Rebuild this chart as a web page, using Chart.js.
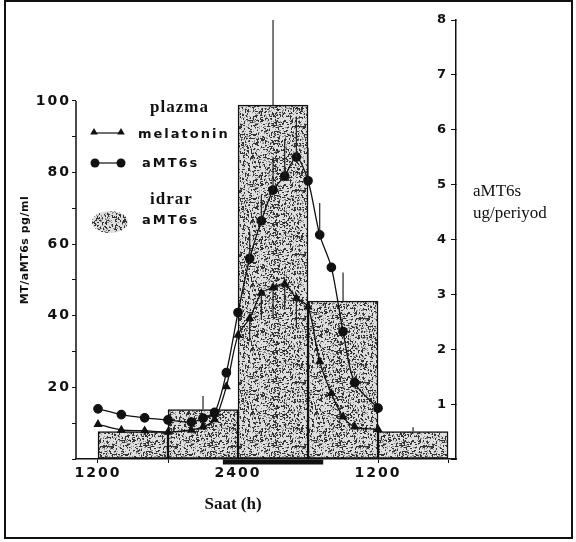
<!DOCTYPE html>
<html>
<head>
<meta charset="utf-8">
<script src="https://cdn.jsdelivr.net/npm/chart.js@4"></script>
<style>
html, body { margin: 0; padding: 0; background: #fff; }
#wrap { position: relative; width: 576px; height: 542px; }
#frame { position: absolute; left: 4px; top: 0px; width: 565px; height: 535px; border: 2px solid #111; pointer-events: none; }
</style>
</head>
<body>
<div id="wrap">
<canvas id="chart" width="576" height="542"></canvas>
<div id="frame"></div>
</div>
<script>
// saat (h): 12 = 1200, 24 = 2400, 36 = ertesi gun 1200
var plasmaHours = [12, 14, 16, 18, 20, 21, 22, 23, 24, 25, 26, 27, 28, 29, 30, 31, 32, 33, 34, 36];
var melatonin = [9.7, 8.1, 7.9, 7.5, 8.1, 9.0, 11.0, 20.2, 34.6, 39.3, 46.3, 47.9, 48.9, 44.9, 42.5, 27.2, 18.3, 11.8, 9.0, 8.3];
var melatoninLow = [null, null, null, null, null, null, null, null, null, 32.8, 38.8, 40.2, 41.6, 36.5, null, null, null, null, null, null];
var plasmaAmt6s = [14.0, 12.4, 11.5, 10.9, 10.3, 11.4, 13.0, 24.1, 40.9, 56.0, 66.5, 75.1, 79.0, 84.3, 77.7, 62.6, 53.5, 35.6, 21.3, 14.2];
var plasmaAmt6sHigh = [null, null, null, null, null, null, null, null, null, 63.5, 73.7, 84.4, 89.0, 95.6, 86.9, 71.5, null, null, null, null];

// idrar aMT6s, 6 saatlik periyotlar (orta noktasi)
var urineHours = [15, 21, 27, 33, 39];
var urineAmt6s = [0.5, 0.9, 6.45, 2.88, 0.5];
var urineAmt6sHigh = [null, 1.15, 8.0, 3.4, 0.58];

var darkPeriod = [22.7, 31.3];

var xTicks = [12, 18, 24, 30, 36, 42];
var xTickLabels = { 12: '1200', 24: '2400', 36: '1200' };
var leftTicks = [0, 10, 20, 30, 40, 50, 60, 70, 80, 90, 100];
var rightTicks = [0, 1, 2, 3, 4, 5, 6, 7, 8];

var sansBold = 'bold 13px "DejaVu Sans"';
var serif = '"Liberation Serif"';

// noktali (stipple) dolgu
function makeStipple() {
    var c = document.createElement('canvas');
    c.width = 64; c.height = 64;
    var g = c.getContext('2d');
    g.fillStyle = '#dedede';
    g.fillRect(0, 0, 64, 64);
    var s = 12345;
    function rnd() { s = (s * 9301 + 49297) % 233280; return s / 233280; }
    for (var i = 0; i < 1300; i++) {
        var x = Math.floor(rnd() * 64);
        var y = Math.floor(rnd() * 64);
        if (i % 2 === 0) {
            g.fillStyle = '#333';
            g.fillRect(x, y, (i % 4 === 0) ? 2 : 1, (i % 4 === 0) ? 1 : 2);
        } else {
            g.fillStyle = '#8c8c8c';
            g.fillRect(x, y, 1, 1);
        }
    }
    return g.createPattern(c, 'repeat');
}
var stipple = makeStipple();

function triangle(ctx, x, y, r) {
    ctx.beginPath();
    ctx.moveTo(x, y - r);
    ctx.lineTo(x + r * 0.95, y + r * 0.6);
    ctx.lineTo(x - r * 0.95, y + r * 0.6);
    ctx.closePath();
    ctx.fill();
}

var extras = {
    id: 'extras',
    beforeDraw: function (chart) {
        chart.ctx.letterSpacing = '2px';
    },
    beforeDatasetsDraw: function (chart) {
        var ctx = chart.ctx;
        var L = chart.chartArea.left;
        ctx.save();
        ctx.fillStyle = '#111';
        ctx.strokeStyle = '#111';
        ctx.textBaseline = 'middle';
        ctx.textAlign = 'left';

        ctx.letterSpacing = '1px';
        ctx.font = 'bold 17px ' + serif;
        ctx.fillText('plazma', L + 74, 108);
        ctx.fillText('idrar', L + 74, 200);

        ctx.letterSpacing = '2px';
        ctx.font = sansBold;
        ctx.lineWidth = 1.2;
        ctx.beginPath(); ctx.moveTo(L + 17, 133); ctx.lineTo(L + 46, 133); ctx.stroke();
        triangle(ctx, L + 18, 132, 4);
        triangle(ctx, L + 45, 132, 4);
        ctx.fillText('melatonin', L + 62, 135);

        ctx.beginPath(); ctx.moveTo(L + 19, 163); ctx.lineTo(L + 45, 163); ctx.stroke();
        ctx.beginPath(); ctx.arc(L + 19, 163, 4.5, 0, Math.PI * 2); ctx.fill();
        ctx.beginPath(); ctx.arc(L + 45, 163, 4.5, 0, Math.PI * 2); ctx.fill();
        ctx.fillText('aMT6s', L + 66, 164);

        ctx.fillStyle = stipple;
        ctx.beginPath();
        ctx.ellipse(L + 34, 222, 18, 11, 0, 0, Math.PI * 2);
        ctx.fill();
        ctx.fillStyle = '#111';
        ctx.fillText('aMT6s', L + 66, 221);
        ctx.restore();
    },
    afterDatasetsDraw: function (chart) {
        var ctx = chart.ctx;
        var x = chart.scales.x, y = chart.scales.y, y2 = chart.scales.y2;
        ctx.save();
        ctx.strokeStyle = '#222';
        ctx.lineWidth = 1.2;
        // hata cubuklari
        plasmaHours.forEach(function (h, i) {
            var px = x.getPixelForValue(h);
            if (plasmaAmt6sHigh[i] != null) {
                ctx.beginPath();
                ctx.moveTo(px, y.getPixelForValue(plasmaAmt6s[i]));
                ctx.lineTo(px, y.getPixelForValue(plasmaAmt6sHigh[i]));
                ctx.stroke();
            }
            if (melatoninLow[i] != null) {
                ctx.beginPath();
                ctx.moveTo(px, y.getPixelForValue(melatonin[i]));
                ctx.lineTo(px, y.getPixelForValue(melatoninLow[i]));
                ctx.stroke();
            }
        });
        urineHours.forEach(function (h, i) {
            if (urineAmt6sHigh[i] == null) return;
            var px = x.getPixelForValue(h);
            ctx.beginPath();
            ctx.moveTo(px, y2.getPixelForValue(urineAmt6s[i]));
            ctx.lineTo(px, y2.getPixelForValue(urineAmt6sHigh[i]));
            ctx.stroke();
        });
        // sol eksen cizgisi 0-100
        ctx.strokeStyle = '#111';
        ctx.lineWidth = 1.5;
        ctx.beginPath();
        ctx.moveTo(x.left, y.getPixelForValue(0));
        ctx.lineTo(x.left, y.getPixelForValue(100));
        ctx.stroke();
        // karanlik periyot
        ctx.lineWidth = 5;
        ctx.beginPath();
        ctx.moveTo(x.getPixelForValue(darkPeriod[0]), x.top + 3);
        ctx.lineTo(x.getPixelForValue(darkPeriod[1]), x.top + 3);
        ctx.stroke();
        ctx.restore();
    },
    afterDraw: function (chart) {
        var ctx = chart.ctx;
        var a = chart.chartArea;
        ctx.save();
        ctx.letterSpacing = '0px';
        ctx.fillStyle = '#111';
        ctx.textBaseline = 'middle';
        ctx.textAlign = 'left';
        ctx.font = '17px ' + serif;
        ctx.fillText('aMT6s', a.right + 17, 192);
        ctx.fillText('ug/periyod', a.right + 17, 214);

        ctx.textAlign = 'center';
        ctx.font = 'bold 17px ' + serif;
        ctx.fillText('Saat (h)', 233, 505);

        ctx.translate(25, 250);
        ctx.rotate(-Math.PI / 2);
        ctx.letterSpacing = '0.5px';
        ctx.font = 'bold 11px "DejaVu Sans"';
        ctx.fillText('MT/aMT6s pg/ml', 0, 0);
        ctx.restore();
    }
};

var ctx = document.getElementById('chart').getContext('2d');
var chart = new Chart(ctx, {
    type: 'bar',
    data: {
        datasets: [{
            type: 'bar',
            label: 'idrar aMT6s',
            data: urineHours.map(function (h, i) { return { x: h, y: urineAmt6s[i] }; }),
            yAxisID: 'y2',
            backgroundColor: stipple,
            borderColor: '#111',
            borderWidth: 1.5,
            borderSkipped: false,
            barPercentage: 1,
            categoryPercentage: 1,
            order: 2
        }, {
            type: 'line',
            label: 'melatonin',
            data: plasmaHours.map(function (h, i) { return { x: h, y: melatonin[i] }; }),
            yAxisID: 'y',
            borderColor: '#111',
            borderWidth: 1.3,
            pointStyle: 'triangle',
            pointRadius: 4,
            pointBackgroundColor: '#111',
            pointBorderColor: '#111',
            tension: 0.3,
            order: 1
        }, {
            type: 'line',
            label: 'aMT6s',
            data: plasmaHours.map(function (h, i) { return { x: h, y: plasmaAmt6s[i] }; }),
            yAxisID: 'y',
            borderColor: '#111',
            borderWidth: 1.3,
            pointStyle: 'circle',
            pointRadius: 4.2,
            pointBackgroundColor: '#111',
            pointBorderColor: '#111',
            tension: 0.3,
            order: 0
        }]
    },
    options: {
        responsive: false,
        animation: false,
        layout: { padding: { top: 20, left: 0, right: 0, bottom: 0 } },
        plugins: { legend: { display: false }, tooltip: { enabled: false } },
        scales: {
            x: {
                type: 'linear',
                min: 10.115,
                max: 42.68,
                offset: false,
                afterBuildTicks: function (s) { s.ticks = xTicks.map(function (v) { return { value: v }; }); },
                afterFit: function (s) { s.height = 83; },
                grid: { display: true, drawOnChartArea: false, offset: false, tickLength: 4, color: '#111' },
                border: { display: true, color: '#111', width: 1.5 },
                ticks: {
                    maxRotation: 0,
                    autoSkip: false,
                    padding: 2,
                    color: '#111',
                    font: { family: 'DejaVu Sans', size: 14, weight: 'bold' },
                    callback: function (v) { return xTickLabels[v] || ''; }
                }
            },
            y: {
                position: 'left',
                min: 0,
                max: 122.6,
                afterBuildTicks: function (s) { s.ticks = leftTicks.map(function (v) { return { value: v }; }); },
                afterFit: function (s) { s.width = 76; },
                grid: { display: true, drawOnChartArea: false, tickLength: 4, color: '#111' },
                border: { display: false },
                ticks: {
                    padding: 1,
                    color: '#111',
                    font: { family: 'DejaVu Sans', size: 14, weight: 'bold' },
                    callback: function (v) { return (v > 0 && v % 20 === 0) ? v : ''; }
                }
            },
            y2: {
                position: 'right',
                min: 0,
                max: 8,
                afterBuildTicks: function (s) { s.ticks = rightTicks.map(function (v) { return { value: v }; }); },
                afterFit: function (s) { s.width = 120; },
                grid: { display: true, drawOnChartArea: false, tickLength: -5, color: '#111' },
                border: { display: true, color: '#111', width: 1.5 },
                ticks: {
                    mirror: true,
                    padding: -8,
                    color: '#111',
                    font: { family: 'DejaVu Sans', size: 13, weight: 'bold' },
                    callback: function (v) { return v > 0 ? v : ''; }
                }
            }
        }
    },
    plugins: [extras]
});
</script>
</body>
</html>
